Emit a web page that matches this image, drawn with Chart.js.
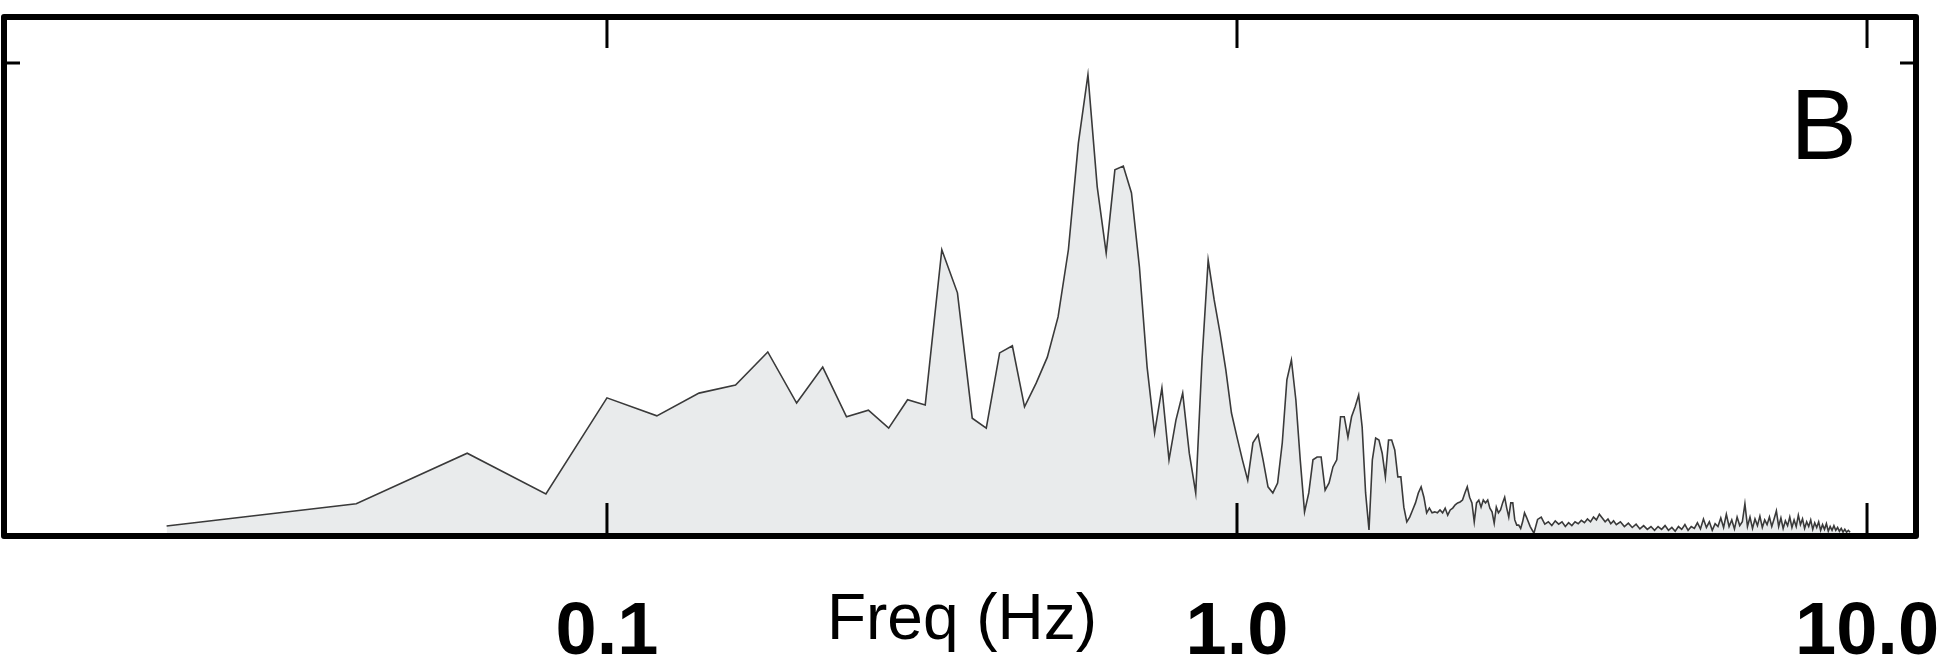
<!DOCTYPE html>
<html>
<head>
<meta charset="utf-8">
<script src="https://cdn.jsdelivr.net/npm/chart.js@4.4.1/dist/chart.umd.min.js"></script>
<style>
  html, body { margin: 0; padding: 0; background: #fff; }
  #wrap { width: 1946px; height: 655px; position: relative; }
</style>
</head>
<body>
<div id="wrap"><canvas id="spectrum"></canvas></div>
<script>
// spectrum bins (Hz) - every bin up to 2.86 Hz, thinner in the noisy tail
const freqs = [
  0.02,0.04,0.06,0.08,0.10,0.12,0.14,0.16,0.18,0.20,
  0.22,0.24,0.26,0.28,0.30,0.32,0.34,0.36,0.38,0.40,
  0.42,0.44,0.46,0.48,0.50,0.52,0.54,0.56,0.58,0.60,
  0.62,0.64,0.66,0.68,0.70,0.72,0.74,0.76,0.78,0.80,
  0.82,0.84,0.86,0.88,0.90,0.92,0.94,0.96,0.98,1.00,
  1.02,1.04,1.06,1.08,1.10,1.12,1.14,1.16,1.18,1.20,
  1.22,1.24,1.26,1.28,1.30,1.32,1.34,1.36,1.38,1.40,
  1.42,1.44,1.46,1.48,1.50,1.52,1.54,1.56,1.58,1.60,
  1.62,1.64,1.66,1.68,1.70,1.72,1.74,1.76,1.78,1.80,
  1.82,1.84,1.86,1.88,1.90,1.92,1.94,1.96,1.98,2.00,
  2.02,2.04,2.06,2.08,2.10,2.12,2.14,2.16,2.18,2.20,
  2.22,2.24,2.26,2.28,2.30,2.32,2.34,2.36,2.38,2.40,
  2.42,2.44,2.46,2.48,2.50,2.52,2.54,2.56,2.58,2.60,
  2.62,2.64,2.66,2.68,2.70,2.72,2.74,2.76,2.78,2.80,
  2.82,2.84,2.86,
  2.88,2.92,2.96,3.00,3.04,3.08,3.12,3.16,3.20,3.24,
  3.28,3.32,3.36,3.40,3.44,3.48,3.52,3.56,3.60,3.64,
  3.68,3.72,3.76,3.80,3.84,3.88,3.92,3.96,4.00,
  4.06,4.12,4.18,4.24,4.30,4.36,4.42,4.48,4.54,4.60,
  4.66,4.72,4.78,4.84,4.90,4.96,5.02,5.08,5.14,5.20,
  5.26,5.32,5.38,5.44,5.50,5.56,5.62,5.68,5.74,5.80,
  5.86,5.92,5.98,6.04,6.10,6.16,6.22,6.28,6.34,6.40,
  6.46,6.52,6.58,6.64,6.70,6.76,6.82,6.88,6.94,7.00,
  7.06,7.12,7.18,7.24,7.30,7.36,7.42,7.48,7.54,7.60,
  7.66,7.72,7.78,7.84,7.90,7.96,8.02,8.08,8.14,8.20,
  8.26,8.32,8.38,8.44,8.50,8.56,8.62,8.68,8.74,8.80,
  8.86,8.92,8.98,9.04,9.10,9.16,9.22,9.28,9.34,9.40
];

// amplitude (arbitrary units, y tick = 1.0)
const amps = [
  0.021,0.068,0.175,0.089,0.292,0.254,0.302,0.319,0.389,0.281,
  0.357,0.252,0.266,0.228,0.288,0.277,0.605,0.514,0.249,0.228,
  0.387,0.402,0.273,0.323,0.378,0.463,0.605,0.830,0.975,0.738,
  0.598,0.774,0.782,0.725,0.569,0.357,0.218,0.313,0.161,0.245,
  0.302,0.175,0.091,0.372,0.583,0.499,0.429,0.351,0.260,0.209,
  0.161,0.118,0.197,0.214,0.161,0.104,0.091,0.112,0.197,0.330,
  0.372,0.288,0.161,0.051,0.091,0.161,0.167,0.167,0.097,0.112,
  0.146,0.161,0.252,0.252,0.209,0.252,0.273,0.298,0.230,0.091,
  0.013,0.161,0.207,0.203,0.175,0.125,0.203,0.203,0.182,0.125,
  0.125,0.061,0.030,0.040,0.055,0.070,0.091,0.104,0.082,0.049,
  0.059,0.049,0.051,0.049,0.055,0.049,0.059,0.044,0.055,0.059,
  0.066,0.070,0.072,0.076,0.091,0.104,0.082,0.070,0.030,0.070,
  0.076,0.061,0.076,0.070,0.076,0.059,0.051,0.027,0.061,0.049,
  0.055,0.070,0.082,0.059,0.040,0.070,0.070,0.034,0.023,0.023,
  0.016,0.030,0.049,
  0.040,0.020,0.006,0.035,0.040,0.025,0.030,0.022,0.032,0.025,
  0.030,0.020,0.028,0.022,0.030,0.026,0.033,0.028,0.036,0.030,
  0.040,0.034,0.046,0.038,0.030,0.036,0.026,0.032,0.024,
  0.030,0.020,0.027,0.018,0.025,0.015,0.022,0.014,0.020,0.012,
  0.020,0.014,0.022,0.012,0.018,0.010,0.020,0.014,0.024,0.012,
  0.020,0.016,0.028,0.015,0.036,0.018,0.030,0.012,0.026,0.020,
  0.038,0.018,0.046,0.020,0.034,0.015,0.040,0.022,0.030,0.068,
  0.020,0.040,0.016,0.036,0.022,0.042,0.018,0.034,0.024,0.040,
  0.020,0.036,0.053,0.020,0.038,0.016,0.032,0.022,0.040,0.018,
  0.034,0.020,0.044,0.024,0.036,0.016,0.030,0.020,0.034,0.014,
  0.028,0.018,0.030,0.012,0.024,0.014,0.026,0.010,0.020,0.012,
  0.022,0.012,0.018,0.010,0.016,0.008,0.014,0.008,0.012,0.008
];

const tickValues = [0.1, 1, 10];
const tickLabels = ['0.1', '1.0', '10.0'];
const yTickValues = [1.0];
const axisTitle = 'Freq (Hz)';
const panelLabel = 'B';

const FONT = '"Liberation Sans", Arial, Helvetica, sans-serif';

// box frame, inward ticks and the extra texts
const framePlugin = {
  id: 'frame',
  afterDatasetsDraw(chart) {
    const { ctx, chartArea: a, scales } = chart;
    const x = scales.x, y = scales.y;
    ctx.save();
    ctx.strokeStyle = '#000';
    ctx.lineWidth = 3;
    ctx.beginPath();
    tickValues.forEach(v => {
      const px = x.getPixelForValue(v);
      ctx.moveTo(px, a.bottom);
      ctx.lineTo(px, a.bottom - 33);
      ctx.moveTo(px, a.top);
      ctx.lineTo(px, a.top + 31);
    });
    yTickValues.forEach(v => {
      const py = y.getPixelForValue(v);
      ctx.moveTo(a.left, py);
      ctx.lineTo(a.left + 16, py);
      ctx.moveTo(a.right, py);
      ctx.lineTo(a.right - 16, py);
    });
    ctx.stroke();

    ctx.lineWidth = 6;
    ctx.lineJoin = 'round';
    ctx.strokeRect(a.left, a.top, a.right - a.left, a.bottom - a.top);

    ctx.fillStyle = '#000';
    ctx.textBaseline = 'alphabetic';
    ctx.font = '64px ' + FONT;
    ctx.textAlign = 'center';
    ctx.fillText(axisTitle, (a.left + a.right) / 2 + 2, a.bottom + 103);

    ctx.font = '100px ' + FONT;
    ctx.textAlign = 'right';
    ctx.fillText(panelLabel, a.right - 59, a.top + 142);
    ctx.restore();
  }
};

const ctx = document.getElementById('spectrum').getContext('2d');

new Chart(ctx, {
  type: 'line',
  data: {
    datasets: [{
      data: freqs.map((f, i) => ({ x: f, y: amps[i] })),
      borderColor: '#3a3a3a',
      borderWidth: 1.6,
      backgroundColor: '#e9ebec',
      fill: 'origin',
      pointRadius: 0,
      tension: 0
    }]
  },
  options: {
    responsive: true,
    maintainAspectRatio: false,
    animation: false,
    events: [],
    layout: { padding: { left: 4, right: 30, top: 17, bottom: 0 } },
    plugins: {
      legend: { display: false },
      tooltip: { enabled: false }
    },
    scales: {
      x: {
        type: 'logarithmic',
        min: 0.01104,
        max: 11.96,
        grid: { display: false },
        border: { display: false },
        afterBuildTicks: s => { s.ticks = tickValues.map(v => ({ value: v })); },
        afterFit: s => {
          s.height = 119;
          s.paddingLeft = 0;
          s.paddingRight = 0;
        },
        ticks: {
          autoSkip: false,
          maxRotation: 0,
          padding: 45,
          color: '#000',
          font: { family: FONT, size: 74, weight: 'bold' },
          callback: (v, i) => tickLabels[i]
        }
      },
      y: {
        min: 0,
        max: 1.097,
        display: false
      }
    }
  },
  plugins: [framePlugin]
});
</script>
</body>
</html>
